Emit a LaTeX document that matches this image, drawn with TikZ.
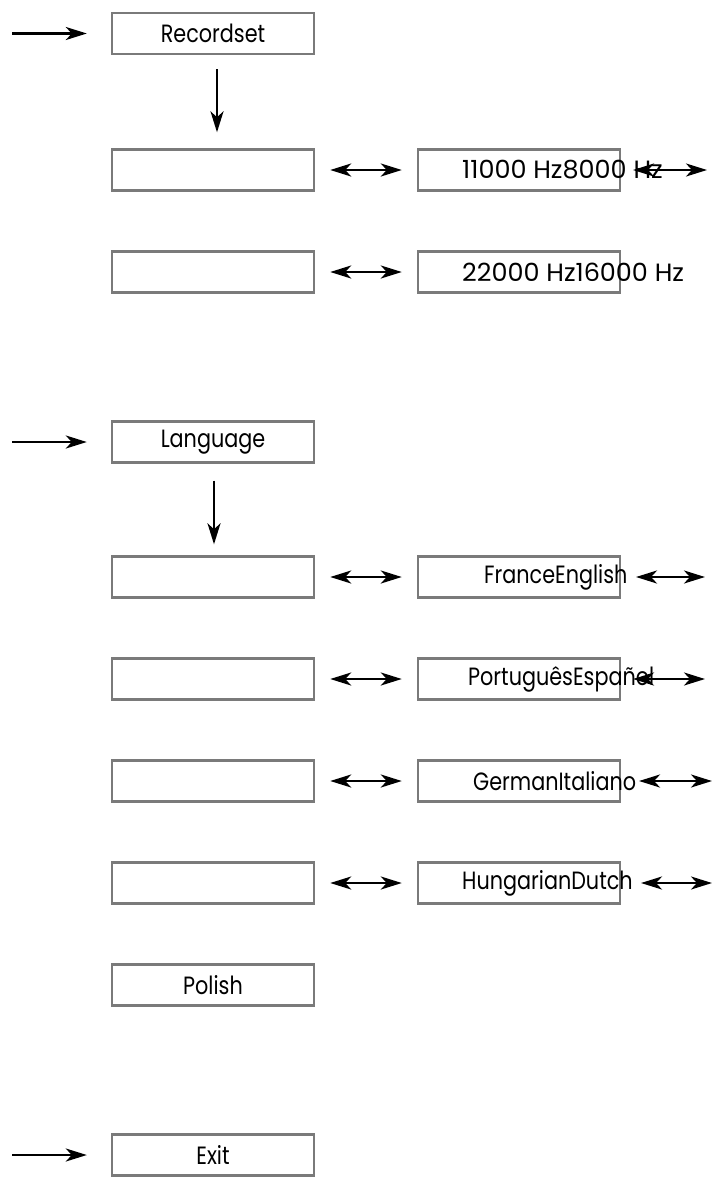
\documentclass[tikz,border=0pt]{standalone}
\usepackage{fontspec}
\setmainfont{Poppins}[FakeStretch=0.83]
\newfontfamily\hzfont{Poppins}[FakeStretch=1.02]
\usetikzlibrary{arrows.meta, positioning}
\definecolor{framegray}{HTML}{7A7A7A}

\begin{document}
\begin{tikzpicture}[x=1pt, y=-1pt,
  menubox/.style={draw=framegray, line width=2.4pt, minimum width=202pt, minimum height=41pt, inner sep=0pt},
  menutext/.style={font=\fontsize{25}{29}\selectfont, inner sep=0pt},
  hztext/.style={menutext, font=\hzfont\fontsize{25}{29}\selectfont},
  onearrow/.style={-{Stealth[length=21pt, width=13pt, inset=6pt]}, line width=2.6pt},
  twoarrow/.style={{Stealth[length=21pt, width=13pt, inset=6pt]}-{Stealth[length=21pt, width=13pt, inset=6pt]}, line width=2.6pt}]
\useasboundingbox (0,0) rectangle (714,1184);

% 枠（左）
\node[menubox] (rec) at (213,33.5) {};
\node[menubox] (recA) at (213,170) {};
\node[menubox] (recB) at (213,272) {};
\node[menubox] (lang) at (213,442) {};
\node[menubox] (langA) at (213,577) {};
\node[menubox] (langB) at (213,679) {};
\node[menubox] (langC) at (213,781) {};
\node[menubox] (langD) at (213,883) {};
\node[menubox] (pol) at (213,985) {};
\node[menubox] (exit) at (213,1155) {};

% 枠（右）
\node[menubox] (hzA) at (519,170) {};
\node[menubox] (hzB) at (519,272) {};
\node[menubox] (enA) at (519,577) {};
\node[menubox] (enB) at (519,679) {};
\node[menubox] (enC) at (519,781) {};
\node[menubox] (enD) at (519,883) {};

% 文字
\node[menutext] (recT) at (rec) {Recordset};
\node[menutext] (langT) at (lang) {Language};
\node[menutext] (polT) at (pol) {Polish};
\node[menutext] (exitT) at (exit) {Exit};
\node[hztext, anchor=west] (hzAT) at (462,170) {11000 Hz8000 Hz};
\node[hztext, anchor=west] (hzBT) at (462,272) {22000 Hz16000 Hz};
\node[menutext, anchor=west] (enAT) at (484,577) {FranceEnglish};
\node[menutext, anchor=west] (enBT) at (468,679) {PortuguêsEspañol};
\node[menutext, anchor=west] (enCT) at (473,781) {GermanItaliano};
\node[menutext, anchor=west] (enDT) at (462,883) {HungarianDutch};

% 入口の矢印
\coordinate (inRec) at (12,33.5);
\coordinate (inLang) at (12,442);
\coordinate (inExit) at (12,1155);
\draw[onearrow, shorten >=24pt] (inRec) -- (rec);
\draw[onearrow, shorten >=24pt] (inLang) -- (lang);
\draw[onearrow, shorten >=24pt] (inExit) -- (exit);

% 下向き
\draw[onearrow, shorten <=14pt, shorten >=16pt] ([xshift=4pt]rec.south) -- ([xshift=4pt]recA.north);
\draw[onearrow, shorten <=17pt, shorten >=11pt] ([xshift=1pt]lang.south) -- ([xshift=1pt]langA.north);

% 左右の矢印
\foreach \l/\r in {recA/hzA, recB/hzB, langA/enA, langB/enB, langC/enC, langD/enD}
  \draw[twoarrow, shorten <=15pt, shorten >=15pt] (\l) -- (\r);

% 右端の矢印
\coordinate (hzAL) at (633,170);  \coordinate (hzAR) at (707,170);
\coordinate (enAL) at (636,577);  \coordinate (enAR) at (705,577);
\coordinate (enBL) at (633,679);  \coordinate (enBR) at (705,679);
\coordinate (enCL) at (639,781);  \coordinate (enCR) at (712,781);
\coordinate (enDL) at (641,883);  \coordinate (enDR) at (712,883);
\foreach \a in {hzA, enA, enB, enC, enD}
  \draw[twoarrow] (\a L) -- (\a R);

\end{tikzpicture}
\end{document}
